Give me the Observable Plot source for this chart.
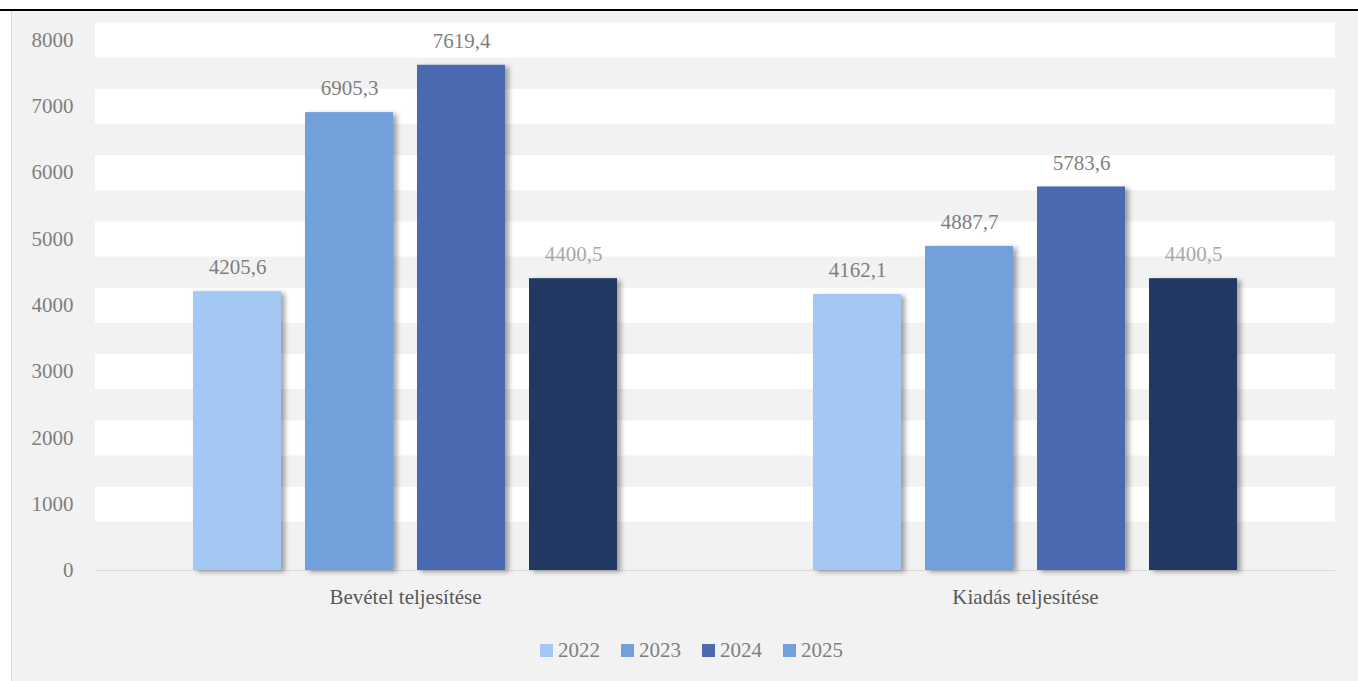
<!DOCTYPE html>
<html>
<head>
<meta charset="utf-8">
<script src="https://cdn.jsdelivr.net/npm/d3@7"></script>
<script src="https://cdn.jsdelivr.net/npm/@observablehq/plot@0.6"></script>
<style>
  html, body { margin: 0; padding: 0; background: #ffffff; width: 1358px; height: 681px; overflow: hidden; }
  #topline { position: absolute; left: 0; top: 8.5px; width: 1358px; height: 0; border-top: 2.5px solid #000; }
  #panel { position: absolute; left: 11px; top: 11px; width: 1347px; height: 670px; background: #f2f2f2; border-left: 1px solid #d9d9d9; }
  #chart { position: absolute; left: 0; top: 0; }
  #legend { position: absolute; left: 0; top: 626px; width: 1347px; height: 26px; display: flex; justify-content: center; align-items: center; padding-left: 12px; box-sizing: border-box;
            font-family: "Liberation Serif", serif; font-size: 21px; color: #7f7f7f; }
  .item { display: flex; align-items: center; margin: 0 10.5px; }
  .sw { width: 13px; height: 13px; margin-right: 5px; }
</style>
</head>
<body>
<div id="topline"></div>
<div id="panel">
  <div id="chart"></div>
  <div id="legend"></div>
</div>
<script>
const categories = ["Bevétel teljesítése", "Kiadás teljesítése"];
const years = ["2022", "2023", "2024", "2025"];
const bevetel = [4205.6, 6905.3, 7619.4, 4400.5];
const kiadas = [4162.1, 4887.7, 5783.6, 4400.5];
const yTicks = [0, 1000, 2000, 3000, 4000, 5000, 6000, 7000, 8000];
const barColors = ["#a3c8f3", "#71a0db", "#4a6ab1", "#203864"];
const legendColors = ["#a3c8f3", "#71a0db", "#4a6ab1", "#71a0db"];
const labelColors = ["#7f7f7f", "#7f7f7f", "#7f7f7f", "#a9a9a9"];

const data = [];
categories.forEach((c, ci) => {
  const vals = ci === 0 ? bevetel : kiadas;
  years.forEach((y, yi) => data.push({category: c, year: y, value: vals[yi], labelColor: labelColors[yi]}));
});

const fmt = v => v.toFixed(1).replace(".", ",");

const chart = Plot.plot({
  width: 1346,
  height: 598,
  marginLeft: 83,
  marginRight: 23,
  marginTop: 28.5,
  marginBottom: 39,
  style: {background: "transparent", fontFamily: "Liberation Serif, serif", fontSize: "21px"},
  y: {domain: [0, 8000]},
  x: {domain: years, paddingInner: 0.21, paddingOuter: 0.86, axis: null},
  fx: {domain: categories, padding: 0, axis: null},
  color: {domain: years, range: barColors},
  marks: [
    Plot.ruleY(yTicks.filter(d => d > 0), {stroke: "#ffffff", strokeWidth: 35}),
    Plot.ruleY([0], {stroke: "#d9d9d9", strokeWidth: 1}),
    Plot.barY(data, {fx: "category", x: "year", y: "value", fill: "year"}),
    Plot.text(data, {fx: "category", x: "year", y: "value", text: d => fmt(d.value), fill: d => d.labelColor, dy: -24, fontSize: 21}),
    Plot.axisY({ticks: yTicks, tickSize: 0, tickPadding: 22, tickFormat: d => String(d), label: null, fill: "#7f7f7f", fontSize: 21}),
    Plot.axisFx({anchor: "bottom", tickSize: 0, tickPadding: 19, label: null, fill: "#595959", fontSize: 21, lineAnchor: "top"})
  ]
});

// drop shadow for bars
const svgNS = "http://www.w3.org/2000/svg";
const defs = document.createElementNS(svgNS, "defs");
defs.innerHTML = '<filter id="barShadow" x="-20%" y="-20%" width="150%" height="150%"><feDropShadow dx="4" dy="2" stdDeviation="2.5" flood-color="#000" flood-opacity="0.35"/></filter>';
chart.insertBefore(defs, chart.firstChild);
chart.querySelectorAll('g[aria-label="bar"] rect').forEach(r => r.setAttribute("filter", "url(#barShadow)"));

document.getElementById("chart").appendChild(chart);

const legend = document.getElementById("legend");
years.forEach((y, i) => {
  const item = document.createElement("div");
  item.className = "item";
  const sw = document.createElement("div");
  sw.className = "sw";
  sw.style.background = legendColors[i];
  const t = document.createElement("span");
  t.textContent = y;
  item.appendChild(sw);
  item.appendChild(t);
  legend.appendChild(item);
});
</script>
</body>
</html>
